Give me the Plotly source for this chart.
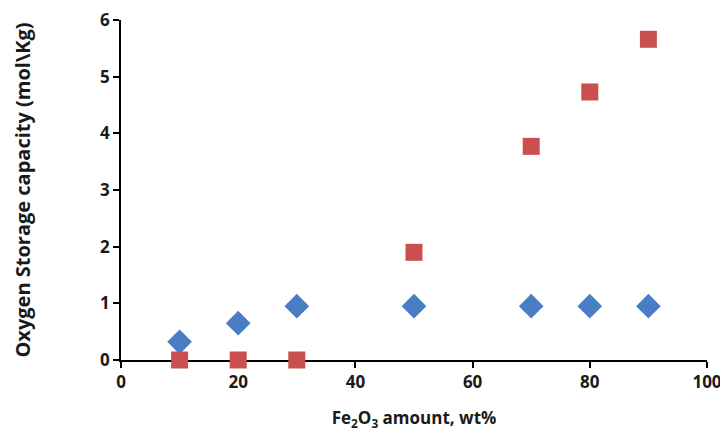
import plotly.graph_objects as go

x_blue = [10, 20, 30, 50, 70, 80, 90]
y_blue = [0.32, 0.65, 0.95, 0.95, 0.95, 0.95, 0.95]
x_red = [10, 20, 30, 50, 70, 80, 90]
y_red = [0.0, 0.0, 0.0, 1.9, 3.77, 4.73, 5.66]

x_ticks = [0, 20, 40, 60, 80, 100]
y_ticks = [0, 1, 2, 3, 4, 5, 6]

fig = go.Figure()
fig.add_trace(go.Scatter(x=x_blue, y=y_blue, mode="markers", cliponaxis=False,
                         marker=dict(symbol="diamond", size=19, color="#4A7EC4",
                                     line=dict(width=0))))
fig.add_trace(go.Scatter(x=x_red, y=y_red, mode="markers", cliponaxis=False,
                         marker=dict(symbol="square", size=17, color="#C9504E",
                                     line=dict(width=0))))

font_main = "Open Sans"
# page body has an 8px margin, so the figure is sized/offset to compensate
fig.update_layout(
    width=720, height=439,
    margin=dict(l=113, r=21, t=12, b=87),
    paper_bgcolor="white", plot_bgcolor="white",
    showlegend=False,
    font=dict(family=font_main, color="#1a1a1a"),
)
fig.update_xaxes(
    range=[0, 100], tickvals=x_ticks, ticks="outside", ticklen=6, tickwidth=1.5,
    tickcolor="black", showline=True, linecolor="black", linewidth=1.8,
    showgrid=False, zeroline=False, layer="below traces", automargin=False,
    ticklabeloverflow="allow",
    tickfont=dict(size=17, family=font_main, weight="bold"),
    title=dict(text="Fe<sub>2</sub>O<sub>3</sub> amount, wt%",
               font=dict(size=17, family=font_main, weight="bold"), standoff=20),
)
fig.update_yaxes(
    range=[0, 6], tickvals=y_ticks, ticks="outside", ticklen=6, tickwidth=1.5,
    tickcolor="black", showline=True, linecolor="black", linewidth=1.8,
    showgrid=False, zeroline=False, layer="below traces", automargin=False,
    ticklabeloverflow="allow",
    tickfont=dict(size=17, family=font_main, weight="bold"),
    title=dict(text="Oxygen Storage capacity (mol\\Kg)",
               font=dict(size=20, family=font_main, weight="bold"), standoff=64),
)

fig.write_html("out.html")
